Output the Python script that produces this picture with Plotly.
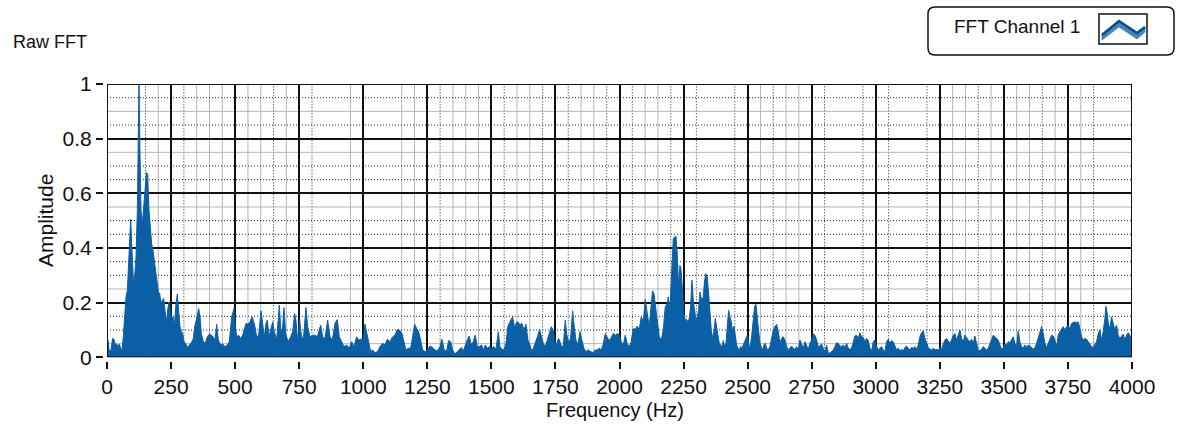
import plotly.graph_objects as go

# ---- spectrum (frequency in Hz, normalised amplitude) ----
freq_hz = [
    0, 3.9, 9.1, 15.6, 22.1, 27.3, 32.5, 37.7, 42.9, 48.1,
    53.3, 58.5, 63.7, 68.9, 74.2, 79.4, 84.6, 89.8, 92.4, 96.3,
    100.2, 104.1, 108.0, 113.2, 118.4, 122.3, 124.9, 128.8, 132.7, 137.9,
    143.1, 148.3, 153.5, 158.7, 163.9, 169.1, 174.3, 179.5, 184.7, 189.9,
    195.1, 200.3, 205.5, 210.7, 215.9, 221.1, 226.3, 231.5, 236.7, 241.9,
    247.1, 252.3, 257.6, 262.8, 269.3, 274.5, 279.7, 284.9, 290.1, 295.3,
    300.5, 307.0, 313.5, 321.3, 329.1, 336.9, 342.1, 349.9, 357.7, 362.9,
    368.1, 375.9, 383.7, 391.5, 399.3, 407.1, 414.9, 421.4, 427.9, 434.4,
    443.6, 451.4, 460.5, 469.6, 477.4, 486.5, 495.6, 500.8, 506.0, 513.8,
    521.6, 529.4, 537.2, 542.4, 550.2, 558.0, 565.8, 571.0, 577.5, 584.0,
    591.8, 600.9, 607.4, 613.9, 620.5, 625.7, 632.2, 638.7, 646.5, 653.0,
    662.1, 672.5, 679.0, 685.5, 690.7, 697.2, 706.3, 716.7, 724.5, 732.3,
    737.5, 744.0, 751.8, 758.3, 766.1, 776.5, 783.0, 792.1, 802.5, 811.7,
    820.8, 833.8, 841.6, 850.7, 861.1, 870.2, 879.3, 889.7, 898.8, 906.6,
    915.7, 924.8, 935.2, 945.6, 954.7, 963.8, 974.3, 982.1, 989.9, 1000.3,
    1006.8, 1013.3, 1021.1, 1028.9, 1036.7, 1045.8, 1056.2, 1065.3, 1075.7, 1084.8,
    1093.9, 1104.3, 1114.7, 1123.8, 1132.9, 1140.7,
    1151.0, 1158.9, 1166.7, 1175.8, 1184.9, 1192.7, 1200.5, 1208.3, 1216.1, 1223.9,
    1231.7, 1240.8, 1249.9, 1260.3, 1270.7, 1279.8, 1288.9, 1299.3, 1307.1, 1315.9,
    1325.3, 1333.1, 1341.0, 1348.8, 1357.9, 1367.0, 1374.8, 1382.6, 1390.4, 1398.2,
    1406.0, 1413.8, 1421.6, 1429.4, 1437.2, 1445.0, 1452.8, 1461.9, 1468.4, 1476.2,
    1484.0, 1491.8, 1500.9, 1510.0, 1517.8, 1527.0, 1533.5, 1541.3, 1549.1, 1556.9,
    1564.7, 1572.5, 1582.9, 1590.7, 1595.9, 1603.7, 1611.5, 1619.3, 1627.1, 1634.9,
    1642.7, 1650.5, 1658.3, 1666.1, 1673.9, 1681.7, 1688.2, 1696.1, 1702.5, 1710.4,
    1718.2, 1726.0, 1733.8, 1741.6, 1748.1, 1754.6, 1762.4, 1767.6, 1774.1, 1780.6,
    1788.4, 1793.6, 1800.1, 1809.2, 1817.0, 1823.5, 1830.0, 1837.8, 1845.6, 1853.4,
    1861.2, 1869.0, 1878.2, 1887.2, 1897.6, 1905.5, 1913.3, 1921.1, 1928.9, 1936.7,
    1944.5, 1952.3, 1960.1, 1967.9, 1975.7, 1983.5, 1991.3, 1999.1, 2006.9, 2014.7,
    2022.5, 2030.3, 2038.1, 2045.9, 2053.7, 2061.5, 2069.3, 2077.1, 2084.9, 2092.8,
    2100.6, 2108.4, 2116.2, 2124.0, 2129.2, 2134.4, 2139.6, 2147.4, 2155.2, 2163.0,
    2170.8, 2178.6, 2186.4,
    2190.3, 2196.8, 2203.3, 2209.9, 2215.1, 2220.3, 2225.5, 2230.7, 2235.9, 2239.8,
    2245.0, 2251.5, 2256.7, 2261.9, 2267.1, 2272.3, 2277.5, 2282.7, 2287.9, 2293.1,
    2298.3, 2303.5, 2308.7, 2313.9, 2320.4, 2326.9, 2332.1, 2337.3, 2342.5, 2347.7,
    2353.0, 2358.1, 2363.3, 2368.5, 2373.7, 2378.9, 2384.2, 2389.4, 2394.6, 2399.8,
    2405.0, 2410.2, 2415.4, 2420.6, 2425.8, 2431.0, 2436.2, 2441.4, 2446.6, 2451.8,
    2457.0, 2462.2, 2467.4, 2472.6, 2477.8, 2483.0, 2488.2, 2493.4, 2498.6, 2503.8,
    2509.0, 2515.5, 2522.0, 2527.2, 2532.4, 2537.6, 2542.8, 2548.0, 2553.2, 2558.4,
    2563.6, 2568.8, 2574.1, 2580.6, 2587.1, 2593.6, 2600.1, 2606.6, 2613.1, 2619.6,
    2626.1, 2632.6, 2639.1, 2645.6, 2652.1, 2658.6, 2665.1, 2671.6, 2678.1, 2684.6,
    2691.1, 2697.6, 2704.1, 2710.6, 2717.1, 2723.6, 2730.1, 2736.6, 2743.1, 2749.6,
    2756.1, 2762.6, 2769.2, 2775.7, 2782.2, 2788.7, 2795.2, 2801.7, 2808.2, 2814.7,
    2821.2, 2827.7, 2834.2, 2840.7, 2847.2, 2853.7, 2860.2, 2866.7, 2873.2, 2879.7,
    2886.2, 2892.7, 2899.2, 2905.7, 2912.2, 2918.7, 2925.2, 2931.7, 2938.2, 2944.7,
    2951.3, 2957.8, 2964.3, 2970.8, 2977.3, 2983.8, 2990.3, 2996.8, 3003.3, 3009.8,
    3016.3, 3022.8, 3029.3, 3035.8, 3042.3, 3048.8, 3055.3, 3061.8, 3068.3, 3074.8,
    3081.3, 3087.8,
    3094.3, 3100.8, 3107.3, 3113.8, 3120.3, 3126.8, 3133.3, 3139.8, 3146.3, 3152.8,
    3159.3, 3165.8, 3172.3, 3178.8, 3185.3, 3191.8, 3198.3, 3204.8, 3211.3, 3217.8,
    3224.4, 3230.9, 3237.4, 3243.9, 3250.4, 3256.9, 3263.4, 3269.9, 3276.4, 3282.9,
    3289.4, 3295.9, 3302.4, 3308.9, 3315.4, 3321.9, 3328.4, 3334.9, 3341.4, 3347.9,
    3354.4, 3360.9, 3367.4, 3373.9, 3380.4, 3386.9, 3393.4, 3399.9, 3406.5, 3413.0,
    3419.5, 3426.0, 3432.5, 3439.0, 3445.5, 3452.0, 3458.5, 3465.0, 3471.5, 3478.0,
    3484.5, 3491.0, 3497.5, 3504.0, 3510.5, 3517.0, 3523.5, 3530.0, 3536.5, 3543.0,
    3549.5, 3556.0, 3562.5, 3569.0, 3575.5, 3582.0, 3588.6, 3595.1, 3601.6, 3608.1,
    3614.6, 3621.1, 3627.6, 3634.1, 3640.6, 3647.1, 3653.6, 3660.1, 3666.6, 3673.1,
    3679.6, 3686.1, 3692.6, 3699.1, 3705.6, 3712.1, 3718.6, 3725.1, 3731.6, 3738.1,
    3744.6, 3751.1, 3757.6, 3764.1, 3770.6, 3777.2, 3783.7, 3790.2, 3796.7, 3803.2,
    3809.7, 3816.2, 3822.7, 3829.2, 3835.7, 3842.2, 3848.7, 3855.2, 3861.7, 3868.2,
    3874.7, 3881.2, 3887.7, 3894.2, 3898.1, 3903.3, 3908.5, 3913.7, 3920.2, 3926.7,
    3933.2, 3939.7, 3946.2, 3952.7, 3959.2, 3965.7, 3972.2, 3978.7, 3985.2, 3991.7,
    3998.2,
]

amplitude = [
    0.057, 0.063, 0.021, 0.027, 0.069, 0.066, 0.045, 0.049, 0.039, 0.049,
    0.033, 0.027, 0.075, 0.148, 0.221, 0.245, 0.367, 0.476, 0.506, 0.415,
    0.306, 0.257, 0.294, 0.367, 0.537, 0.900, 1.000, 0.743, 0.537, 0.488,
    0.537, 0.610, 0.676, 0.670, 0.537, 0.464, 0.415, 0.391, 0.349, 0.318,
    0.282, 0.239, 0.233, 0.197, 0.209, 0.215, 0.172, 0.124, 0.172, 0.203,
    0.172, 0.124, 0.148, 0.112, 0.197, 0.231, 0.172, 0.112, 0.094, 0.087,
    0.057, 0.051, 0.036, 0.045, 0.053, 0.069, 0.112, 0.142, 0.178, 0.148,
    0.087, 0.057, 0.051, 0.075, 0.085, 0.081, 0.075, 0.061, 0.121, 0.063,
    0.045, 0.049, 0.039, 0.045, 0.057, 0.148, 0.178, 0.112, 0.075, 0.081,
    0.069, 0.081, 0.106, 0.124, 0.121, 0.130, 0.148, 0.136, 0.112, 0.075,
    0.081, 0.170, 0.124, 0.075, 0.124, 0.136, 0.075, 0.100, 0.130, 0.094,
    0.063, 0.191, 0.087, 0.112, 0.182, 0.087, 0.057, 0.075, 0.094, 0.160,
    0.136, 0.057, 0.136, 0.081, 0.063, 0.182, 0.112, 0.075, 0.081, 0.081,
    0.075, 0.118, 0.075, 0.069, 0.136, 0.075, 0.063, 0.124, 0.138, 0.075,
    0.057, 0.039, 0.045, 0.033, 0.057, 0.039, 0.075, 0.063, 0.066, 0.069,
    0.121, 0.087, 0.057, 0.021, 0.027, 0.017, 0.021, 0.039, 0.051, 0.045,
    0.066, 0.057, 0.075, 0.081, 0.102, 0.100,
    0.087, 0.051, 0.027, 0.033, 0.033, 0.075, 0.121, 0.106, 0.094, 0.063,
    0.027, 0.021, 0.027, 0.041, 0.036, 0.027, 0.023, 0.039, 0.066, 0.027,
    0.023, 0.061, 0.057, 0.027, 0.012, 0.021, 0.027, 0.036, 0.024, 0.045,
    0.063, 0.078, 0.045, 0.057, 0.081, 0.039, 0.039, 0.045, 0.027, 0.045,
    0.033, 0.039, 0.033, 0.039, 0.029, 0.094, 0.039, 0.029, 0.027, 0.051,
    0.114, 0.130, 0.148, 0.106, 0.124, 0.130, 0.118, 0.124, 0.100, 0.121,
    0.063, 0.045, 0.021, 0.039, 0.057, 0.081, 0.102, 0.069, 0.051, 0.039,
    0.063, 0.094, 0.112, 0.100, 0.051, 0.049, 0.069, 0.057, 0.039, 0.039,
    0.136, 0.087, 0.057, 0.069, 0.170, 0.112, 0.063, 0.045, 0.094, 0.063,
    0.033, 0.021, 0.027, 0.021, 0.017, 0.027, 0.027, 0.033, 0.027, 0.049,
    0.087, 0.073, 0.061, 0.073, 0.087, 0.081, 0.087, 0.081, 0.057, 0.045,
    0.081, 0.049, 0.039, 0.057, 0.106, 0.102, 0.114, 0.100, 0.148, 0.130,
    0.211, 0.160, 0.112, 0.197, 0.243, 0.233, 0.197, 0.136, 0.075, 0.063,
    0.100, 0.185, 0.197,
    0.221, 0.172, 0.306, 0.434, 0.440, 0.442, 0.379, 0.257, 0.336, 0.324,
    0.257, 0.160, 0.136, 0.138, 0.130, 0.142, 0.185, 0.282, 0.209, 0.160,
    0.136, 0.148, 0.172, 0.239, 0.209, 0.221, 0.282, 0.306, 0.294, 0.233,
    0.160, 0.100, 0.069, 0.094, 0.142, 0.106, 0.069, 0.051, 0.045, 0.039,
    0.061, 0.039, 0.051, 0.112, 0.172, 0.148, 0.130, 0.094, 0.114, 0.081,
    0.045, 0.033, 0.027, 0.039, 0.033, 0.045, 0.057, 0.075, 0.081, 0.051,
    0.033, 0.075, 0.136, 0.185, 0.194, 0.148, 0.087, 0.051, 0.039, 0.027,
    0.045, 0.051, 0.033, 0.027, 0.039, 0.075, 0.100, 0.112, 0.121, 0.094,
    0.051, 0.069, 0.075, 0.063, 0.039, 0.027, 0.033, 0.041, 0.033, 0.029,
    0.039, 0.027, 0.063, 0.049, 0.033, 0.057, 0.041, 0.029, 0.051, 0.063,
    0.085, 0.081, 0.063, 0.039, 0.041, 0.049, 0.033, 0.021, 0.045, 0.017,
    0.015, 0.021, 0.027, 0.039, 0.053, 0.051, 0.041, 0.039, 0.045, 0.036,
    0.051, 0.033, 0.029, 0.033, 0.057, 0.078, 0.081, 0.069, 0.090, 0.075,
    0.073, 0.057, 0.069, 0.061, 0.033, 0.024, 0.057, 0.063, 0.039, 0.027,
    0.033, 0.039, 0.027, 0.021, 0.057, 0.066, 0.051, 0.061, 0.057, 0.039,
    0.027, 0.033,
    0.024, 0.029, 0.024, 0.036, 0.041, 0.033, 0.027, 0.036, 0.033, 0.039,
    0.029, 0.045, 0.075, 0.090, 0.097, 0.069, 0.051, 0.036, 0.029, 0.027,
    0.033, 0.027, 0.029, 0.027, 0.033, 0.029, 0.049, 0.063, 0.069, 0.057,
    0.051, 0.063, 0.081, 0.087, 0.063, 0.081, 0.100, 0.069, 0.057, 0.081,
    0.069, 0.063, 0.057, 0.066, 0.051, 0.078, 0.051, 0.027, 0.024, 0.029,
    0.039, 0.033, 0.027, 0.033, 0.051, 0.066, 0.081, 0.075, 0.069, 0.063,
    0.045, 0.029, 0.036, 0.051, 0.045, 0.057, 0.053, 0.066, 0.075, 0.051,
    0.039, 0.097, 0.057, 0.039, 0.033, 0.045, 0.036, 0.045, 0.041, 0.036,
    0.029, 0.036, 0.051, 0.073, 0.090, 0.112, 0.087, 0.051, 0.036, 0.051,
    0.073, 0.081, 0.078, 0.063, 0.039, 0.081, 0.094, 0.106, 0.112, 0.100,
    0.112, 0.114, 0.106, 0.124, 0.126, 0.130, 0.126, 0.130, 0.106, 0.075,
    0.063, 0.069, 0.066, 0.057, 0.049, 0.039, 0.036, 0.045, 0.057, 0.087,
    0.100, 0.063, 0.094, 0.142, 0.187, 0.160, 0.118, 0.106, 0.148, 0.124,
    0.100, 0.118, 0.081, 0.069, 0.078, 0.085, 0.063, 0.081, 0.090, 0.081,
    0.057,
]

series_name = "FFT Channel 1"
chart_title = "Raw FFT"
x_title = "Frequency (Hz)"
y_title = "Amplitude"

x_ticks = list(range(0, 4001, 250))
x_tick_labels = [str(v) for v in x_ticks]
y_ticks = [0, 0.2, 0.4, 0.6, 0.8, 1]
y_tick_labels = ["0", "0.2", "0.4", "0.6", "0.8", "1"]

# secondary grid sets (light solid and black dotted)
x_grid_light = [200, 350, 400, 450, 550, 600, 700, 950, 1150, 1200, 1350, 1400,
                1450, 1600, 1650, 1850, 1900, 2100, 2150, 2550, 2650, 2700,
                3300, 3350, 3450, 3550, 3600, 3700, 3800]
x_grid_dotted = [150, 300, 650, 800, 1300, 1550, 1700, 1800, 1950, 2050, 2200,
                 2300, 2450, 2600, 2800, 2950, 3050, 3200, 3400, 3650, 3850]
y_grid_light = [0.05, 0.25, 0.55, 0.75, 0.9]
y_grid_dotted = [0.1, 0.15, 0.3, 0.35, 0.45, 0.5, 0.65, 0.7, 0.85, 0.95]

X_RANGE = [0, 4000]
Y_RANGE = [0, 1]

BLUE = "#0b5fa5"
INK = "#111"
FONT = "Liberation Sans, Arial, sans-serif"
W, H = 1181, 432
ML, MR, MT, MB = 103, 47, 84, 71
PW, PH = W - ML - MR, H - MT - MB


def px(xp):
    return (xp - ML) / PW


def py(yp):
    return (H - MB - yp) / PH


x_domain = [px(107), px(1132)]
y_domain = [py(357.3), py(84)]

fig = go.Figure()
fig.add_trace(go.Scatter(
    x=freq_hz, y=amplitude, mode="lines", fill="tozeroy",
    line=dict(color=BLUE, width=1), fillcolor=BLUE,
    name=series_name, showlegend=False, hoverinfo="x+y",
))

tick_font = dict(family=FONT, size=21, color=INK)
fig.update_layout(
    width=W, height=H,
    margin=dict(l=ML, r=MR, t=MT, b=MB),
    paper_bgcolor="white", plot_bgcolor="white",
    font=dict(family=FONT, size=20, color=INK),
    xaxis=dict(
        domain=x_domain, range=X_RANGE, anchor="free", position=0,
        tickmode="array", tickvals=x_ticks, ticktext=x_tick_labels,
        ticks="outside", ticklen=7, tickwidth=1.5, tickcolor=INK,
        showgrid=True, gridcolor=INK, gridwidth=1.5,
        zeroline=False, showline=False, tickfont=tick_font,
    ),
    yaxis=dict(
        domain=y_domain, range=Y_RANGE, anchor="free", position=0,
        tickmode="array", tickvals=y_ticks, ticktext=y_tick_labels,
        ticks="outside", ticklen=7, tickwidth=1.5, tickcolor=INK,
        showgrid=True, gridcolor=INK, gridwidth=1.5,
        zeroline=False, showline=False, tickfont=tick_font,
    ),
    showlegend=False,
)

# minor grid, beneath the filled spectrum
LIGHT = dict(color="#b5b5b5", width=1)
DOTTED = dict(color="#222", width=1, dash="1px,2px")
for xv in x_grid_light:
    fig.add_shape(type="line", xref="x", yref="y", x0=xv, x1=xv,
                  y0=Y_RANGE[0], y1=Y_RANGE[1], line=LIGHT, layer="below")
for xv in x_grid_dotted:
    fig.add_shape(type="line", xref="x", yref="y", x0=xv, x1=xv,
                  y0=Y_RANGE[0], y1=Y_RANGE[1], line=DOTTED, layer="below")
for yv in y_grid_light:
    fig.add_shape(type="line", xref="x", yref="y", x0=X_RANGE[0], x1=X_RANGE[1],
                  y0=yv, y1=yv, line=LIGHT, layer="below")
for yv in y_grid_dotted:
    fig.add_shape(type="line", xref="x", yref="y", x0=X_RANGE[0], x1=X_RANGE[1],
                  y0=yv, y1=yv, line=DOTTED, layer="below")

# plot frame
fig.add_shape(type="rect", xref="x", yref="y",
              x0=X_RANGE[0], x1=X_RANGE[1], y0=Y_RANGE[0], y1=Y_RANGE[1],
              line=dict(color=INK, width=2), layer="above")


# legend box with rounded corners
def rounded_rect(x0, y0, x1, y1, r):
    pts = [
        ("M", (x0 + r, y0)), ("L", (x1 - r, y0)), ("Q", (x1, y0), (x1, y0 + r)),
        ("L", (x1, y1 - r)), ("Q", (x1, y1), (x1 - r, y1)),
        ("L", (x0 + r, y1)), ("Q", (x0, y1), (x0, y1 - r)),
        ("L", (x0, y0 + r)), ("Q", (x0, y0), (x0 + r, y0)),
    ]
    out = []
    for item in pts:
        cmd = item[0]
        coords = " ".join(f"{px(a):.5f},{py(b):.5f}" for a, b in item[1:])
        out.append(f"{cmd} {coords}")
    return " ".join(out) + " Z"


fig.add_shape(type="path", xref="paper", yref="paper",
              path=rounded_rect(928, 7, 1174, 55, 7),
              line=dict(color=INK, width=1.5), fillcolor="white")

# legend glyph
fig.add_shape(type="rect", xref="paper", yref="paper",
              x0=px(1099), x1=px(1147), y0=py(44), y1=py(14),
              line=dict(color=INK, width=1.5), fillcolor="white")
wave_top = [(1102, 35), (1119, 21), (1137, 33), (1145, 27)]
wave_bottom = [(1145, 32), (1137, 39), (1119, 27), (1102, 40)]
poly = wave_top + wave_bottom
fig.add_shape(type="path", xref="paper", yref="paper",
              path="M " + " L ".join(f"{px(a):.5f},{py(b):.5f}" for a, b in poly) + " Z",
              line=dict(color=BLUE, width=0.5), fillcolor="#3f86c4")
fig.add_shape(type="path", xref="paper", yref="paper",
              path="M " + " L ".join(f"{px(a):.5f},{py(b):.5f}" for a, b in wave_top),
              line=dict(color="#0a4a85", width=2.5))

fig.add_annotation(text=series_name, xref="paper", yref="paper",
                   x=px(952), y=py(27), xanchor="left", yanchor="middle",
                   showarrow=False, font=dict(family=FONT, size=19, color=INK))
fig.add_annotation(text=chart_title, xref="paper", yref="paper",
                   x=px(11), y=py(42), xanchor="left", yanchor="middle",
                   showarrow=False, font=dict(family=FONT, size=18, color=INK))
fig.add_annotation(text=y_title, xref="paper", yref="paper",
                   x=px(45), y=py(221), xanchor="center", yanchor="middle",
                   textangle=-90, showarrow=False,
                   font=dict(family=FONT, size=21, color=INK))
fig.add_annotation(text=x_title, xref="paper", yref="paper",
                   x=px(615), y=py(410), xanchor="center", yanchor="middle",
                   showarrow=False, font=dict(family=FONT, size=20, color=INK))

fig.write_html("out.html")
